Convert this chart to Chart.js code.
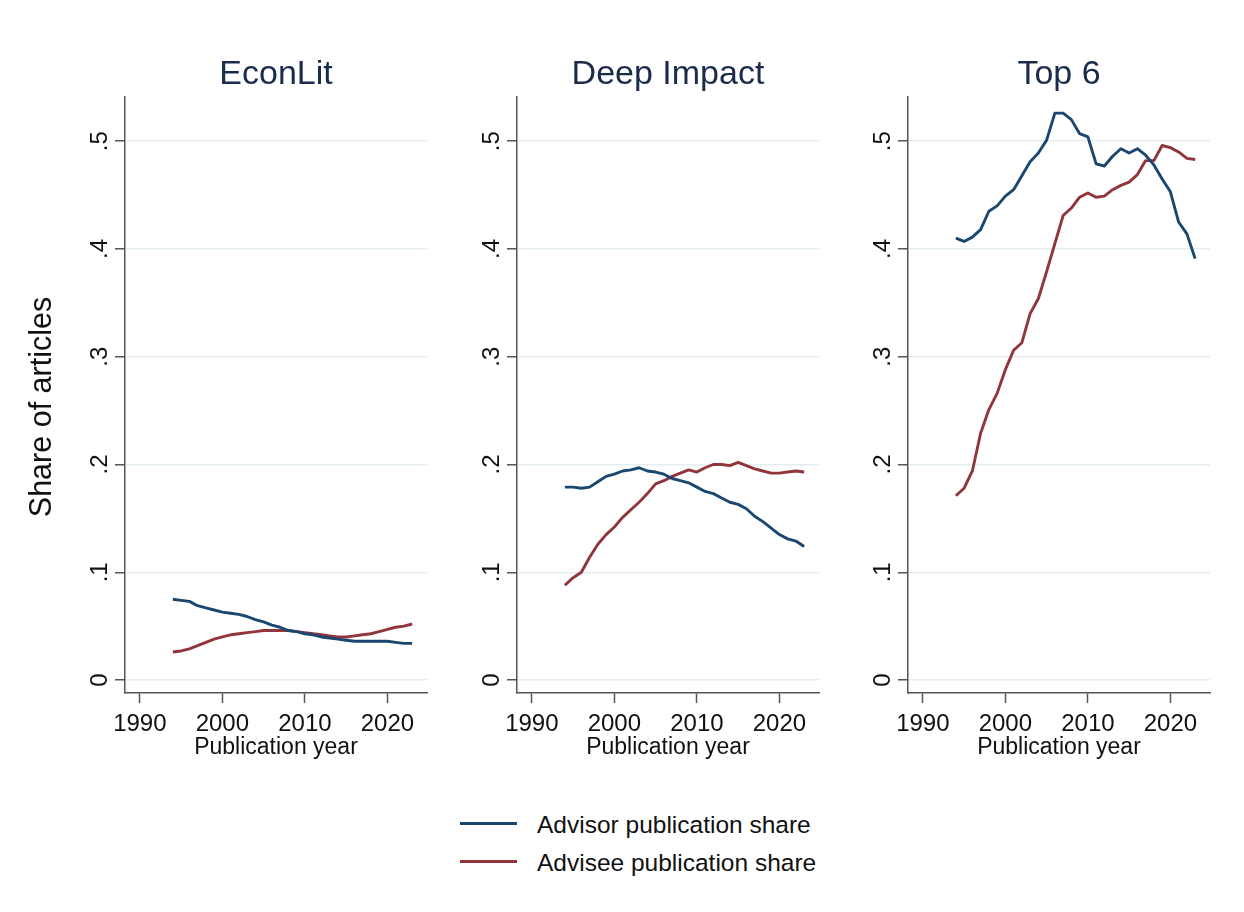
<!DOCTYPE html>
<html>
<head>
<meta charset="utf-8">
<script src="https://cdn.jsdelivr.net/npm/chart.js@4.4.1/dist/chart.umd.min.js"></script>
<style>
  body { margin: 0; background: #fff; width: 1244px; height: 912px; position: relative; overflow: hidden;
         font-family: "Liberation Sans", Arial, sans-serif; }
  .panel { position: absolute; top: 0; }
  .swatch { position: absolute; left: 460px; width: 57px; height: 3px; }
  .key { position: absolute; left: 537px; font-size: 24.5px; line-height: 25px; color: #111; white-space: nowrap; }
</style>
</head>
<body>
<canvas id="econlit" class="panel" style="left:0px" width="432" height="770"></canvas>
<canvas id="deep" class="panel" style="left:392px" width="432" height="770"></canvas>
<canvas id="top6" class="panel" style="left:783px" width="432" height="770"></canvas>

<div class="swatch" style="top:822px; background:#1a476f"></div>
<div class="key" style="top:812px">Advisor publication share</div>
<div class="swatch" style="top:860px; background:#90353b"></div>
<div class="key" style="top:850px">Advisee publication share</div>

<script>
var years = [1994, 1995, 1996, 1997, 1998, 1999, 2000, 2001, 2002, 2003,
             2004, 2005, 2006, 2007, 2008, 2009, 2010, 2011, 2012, 2013,
             2014, 2015, 2016, 2017, 2018, 2019, 2020, 2021, 2022, 2023];

var econlitAdvisor = [0.075, 0.074, 0.073, 0.069, 0.067, 0.065, 0.063, 0.062, 0.061, 0.059,
                      0.056, 0.054, 0.051, 0.049, 0.046, 0.045, 0.043, 0.042, 0.040, 0.039,
                      0.038, 0.037, 0.036, 0.036, 0.036, 0.036, 0.036, 0.035, 0.034, 0.034];
var econlitAdvisee = [0.026, 0.027, 0.029, 0.032, 0.035, 0.038, 0.040, 0.042, 0.043, 0.044,
                      0.045, 0.046, 0.046, 0.046, 0.046, 0.045, 0.044, 0.043, 0.042, 0.041,
                      0.040, 0.040, 0.041, 0.042, 0.043, 0.045, 0.047, 0.049, 0.050, 0.052];

var deepAdvisor = [0.179, 0.179, 0.178, 0.179, 0.184, 0.189, 0.191, 0.194, 0.195, 0.197,
                   0.194, 0.193, 0.191, 0.187, 0.185, 0.183, 0.179, 0.175, 0.173, 0.169,
                   0.165, 0.163, 0.159, 0.152, 0.147, 0.141, 0.135, 0.131, 0.129, 0.124];
var deepAdvisee = [0.088, 0.095, 0.100, 0.114, 0.126, 0.135, 0.142, 0.151, 0.158, 0.165,
                   0.173, 0.182, 0.185, 0.189, 0.192, 0.195, 0.193, 0.197, 0.200, 0.200,
                   0.199, 0.202, 0.199, 0.196, 0.194, 0.192, 0.192, 0.193, 0.194, 0.193];

var top6Advisor = [0.410, 0.407, 0.411, 0.418, 0.435, 0.440, 0.449, 0.455, 0.468, 0.481,
                   0.489, 0.501, 0.526, 0.526, 0.520, 0.507, 0.504, 0.479, 0.477, 0.486,
                   0.493, 0.489, 0.493, 0.487, 0.478, 0.465, 0.453, 0.425, 0.414, 0.391];
var top6Advisee = [0.171, 0.178, 0.194, 0.229, 0.251, 0.266, 0.288, 0.306, 0.313, 0.340,
                   0.354, 0.379, 0.405, 0.431, 0.438, 0.448, 0.452, 0.448, 0.449, 0.455,
                   0.459, 0.462, 0.469, 0.482, 0.482, 0.496, 0.494, 0.490, 0.484, 0.483];

var xTicks = [1990, 2000, 2010, 2020];
var yTicks = [0, 0.1, 0.2, 0.3, 0.4, 0.5];

var FONT = '"Liberation Sans", Arial, sans-serif';
var navy = "#1a476f";
var maroon = "#90353b";
var axisColor = "#555555";
var gridColor = "#e4edf0";
var textColor = "#111111";

// rotated overall y title, only on the first panel
var yTitle = {
    id: "yTitle",
    afterDraw: function(chart) {
        var area = chart.chartArea;
        var ctx = chart.ctx;
        ctx.save();
        ctx.translate(42.5, (area.top + area.bottom) / 2 + 12);
        ctx.rotate(-Math.PI / 2);
        ctx.font = "30.5px " + FONT;
        ctx.fillStyle = textColor;
        ctx.textAlign = "center";
        ctx.textBaseline = "middle";
        ctx.fillText("Share of articles", 0, 0);
        ctx.restore();
    }
};

function toPoints(values) {
    return years.map((yr, i) => {
        return {x: yr, y: values[i]}
    });
}

function createPanel(id, title, advisor, advisee, withTitle) {
    return new Chart(document.getElementById(id), {
        type: "line",
        data: {
            datasets: [
            {
                label: "Advisor publication share",
                data: toPoints(advisor),
                borderColor: navy,
                borderWidth: 2.9,
                pointRadius: 0,
                tension: 0,
            },
            {
                label: "Advisee publication share",
                data: toPoints(advisee),
                borderColor: maroon,
                borderWidth: 2.9,
                pointRadius: 0,
                tension: 0,
            },
            ]
        },
        options: {
            responsive: false,
            animation: false,
            borderJoinStyle: "round",
            layout: {
                padding: {left: 0, right: 5, top: 0, bottom: 0},
            },
            scales: {
                x: {
                    type: "linear",
                    min: 1988.2,
                    max: 2024.8,
                    afterBuildTicks: (scale) => {
                        scale.ticks = xTicks.map(v => ({value: v}));
                    },
                    afterFit: (scale) => { scale.height = 77; },
                    grid: {
                        drawOnChartArea: false,
                        tickLength: 10,
                        tickColor: axisColor,
                        tickWidth: 1.5,
                    },
                    border: {color: axisColor, width: 1.5},
                    ticks: {
                        maxRotation: 0,
                        padding: 7,
                        color: textColor,
                        font: {family: FONT, size: 24},
                        callback: (v) => String(v),
                    },
                    title: {
                        display: true,
                        text: "Publication year",
                        color: textColor,
                        font: {family: FONT, size: 23},
                        padding: {top: 0, bottom: 9},
                    },
                },
                y: {
                    min: -0.012,
                    max: 0.541,
                    afterBuildTicks: (scale) => {
                        scale.ticks = yTicks.map(v => ({value: v}));
                    },
                    afterFit: (scale) => { scale.width = 125; },
                    grid: {
                        color: gridColor,
                        lineWidth: 1.5,
                        tickLength: 10,
                        tickColor: axisColor,
                        tickWidth: 1.5,
                    },
                    border: {color: axisColor, width: 1.5},
                    ticks: {
                        minRotation: 90,
                        maxRotation: 90,
                        crossAlign: "center",
                        padding: 5,
                        color: textColor,
                        font: {family: FONT, size: 24},
                        callback: (v) => (v === 0 ? "0" : v.toFixed(1).replace(/^0/, "")),
                    },
                },
            },
            plugins: {
                legend: {display: false},
                tooltip: {enabled: false},
                title: {
                    display: true,
                    fullSize: false,   // center over the plot area, not the canvas
                    text: title,
                    color: "#1b2b4b",
                    font: {family: FONT, size: 34, weight: "normal"},
                    padding: {top: 54.4, bottom: 1.8},
                },
            },
        },
        plugins: withTitle ? [yTitle] : [],
    });
}

createPanel("econlit", "EconLit", econlitAdvisor, econlitAdvisee, true);
createPanel("deep", "Deep Impact", deepAdvisor, deepAdvisee, false);
createPanel("top6", "Top 6", top6Advisor, top6Advisee, false);
</script>
</body>
</html>
